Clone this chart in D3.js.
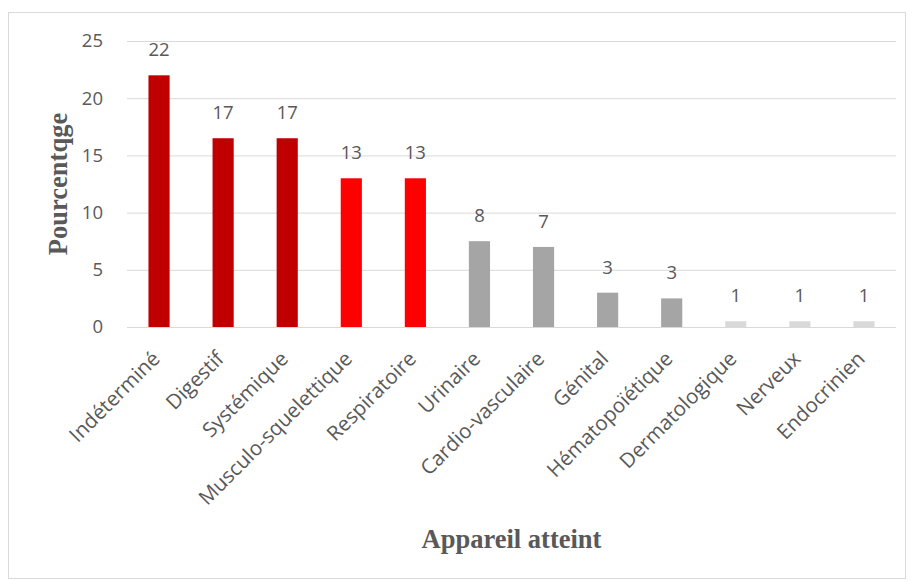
<!DOCTYPE html>
<html>
<head>
<meta charset="utf-8">
<script src="https://cdn.jsdelivr.net/npm/d3@7"></script>
<style>
  body { margin: 0; background: #fff; }
  text { fill: #595959; }
</style>
</head>
<body>
<div id="chart"></div>
<script>
const categories = ["Indéterminé", "Digestif", "Systémique", "Musculo-squelettique", "Respiratoire",
  "Urinaire", "Cardio-vasculaire", "Génital", "Hématopoïétique", "Dermatologique", "Nerveux", "Endocrinien"];
const values = [22, 16.5, 16.5, 13, 13, 7.5, 7, 3, 2.5, 0.5, 0.5, 0.5];
const labels = ["22", "17", "17", "13", "13", "8", "7", "3", "3", "1", "1", "1"];
const groups = ["a", "a", "a", "b", "b", "c", "c", "c", "c", "d", "d", "d"];
const yTicks = [0, 5, 10, 15, 20, 25];

const width = 913, height = 581;
const margin = { left: 127, right: 17, top: 41, bottom: 254 };

const color = d3.scaleOrdinal()
  .domain(["a", "b", "c", "d"])
  .range(["#C00000", "#FF0000", "#A5A5A5", "#D9D9D9"]);

const svg = d3.select("#chart").append("svg")
  .attr("width", width)
  .attr("height", height);

// outer frame
svg.append("rect")
  .attr("x", 8.5).attr("y", 12.5)
  .attr("width", 897).attr("height", 566)
  .attr("fill", "none")
  .attr("stroke", "#D9D9D9");

let x = d3.scaleBand()
  .domain(categories)
  .range([margin.left, width - margin.right])
  .paddingInner(0.67)
  .paddingOuter(0.335);

let y = d3.scaleLinear()
  .domain([0, 25])
  .range([height - margin.bottom, margin.top]);

// gridlines
svg.append("g")
  .selectAll("line")
  .data(yTicks)
  .enter()
  .append("line")
  .attr("x1", margin.left)
  .attr("x2", width - margin.right)
  .attr("y1", d => y(d) + 0.5)
  .attr("y2", d => y(d) + 0.5)
  .attr("stroke", "#D9D9D9")
  .attr("stroke-width", 1);

// y axis labels
let yAxis = d3.axisLeft(y).tickValues(yTicks).tickSize(0).tickPadding(24);
let yg = svg.append("g")
  .attr("transform", "translate(" + margin.left + ",0)")
  .call(yAxis);
yg.select(".domain").remove();
yg.selectAll("text")
  .style("font-family", "'Open Sans', sans-serif")
  .style("font-size", "18.5px")
  .attr("fill", "#595959");

// bars
svg.append("g")
  .selectAll("rect")
  .data(values)
  .enter()
  .append("rect")
  .attr("x", (d, i) => x(categories[i]))
  .attr("y", d => y(d))
  .attr("width", x.bandwidth())
  .attr("height", d => y(0) - y(d))
  .attr("fill", (d, i) => color(groups[i]));

// value labels
svg.append("g")
  .selectAll("text")
  .data(values)
  .enter()
  .append("text")
  .attr("x", (d, i) => x(categories[i]) + x.bandwidth() / 2)
  .attr("y", d => y(d) - 19)
  .attr("text-anchor", "middle")
  .style("font-family", "'Open Sans', sans-serif")
  .style("font-size", "18.5px")
  .text((d, i) => labels[i]);

// x axis labels
let xAxis = d3.axisBottom(x).tickSize(0).tickPadding(0);
let xg = svg.append("g")
  .attr("transform", "translate(0," + y(0) + ")")
  .call(xAxis);
xg.select(".domain").remove();
xg.selectAll("text")
  .style("font-family", "'Open Sans', sans-serif")
  .style("font-size", "20.5px")
  .attr("fill", "#595959")
  .attr("text-anchor", "end")
  .attr("y", 0)
  .attr("dy", "0.35em")
  .attr("transform", "translate(-3,28) rotate(-45)");

// axis titles
svg.append("text")
  .attr("transform", "translate(67," + (margin.top + (y(0) - margin.top) / 2) + ") rotate(-90)")
  .attr("text-anchor", "middle")
  .style("font-family", "'Liberation Serif', serif")
  .style("font-weight", "bold")
  .style("font-size", "26.5px")
  .text("Pourcentqge");

svg.append("text")
  .attr("x", (margin.left + width - margin.right) / 2)
  .attr("y", 548)
  .attr("text-anchor", "middle")
  .style("font-family", "'Liberation Serif', serif")
  .style("font-weight", "bold")
  .style("font-size", "26.5px")
  .text("Appareil atteint");
</script>
</body>
</html>
